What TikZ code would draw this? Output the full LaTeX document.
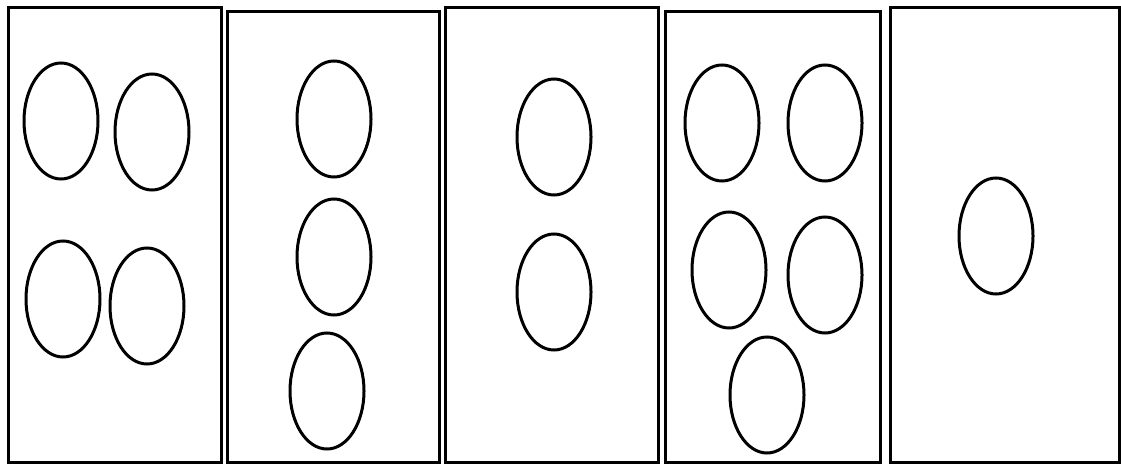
\documentclass[tikz,border=0pt]{standalone}
\begin{document}
\begin{tikzpicture}[x=1pt,y=-1pt,
  panel/.style={draw=black,line width=3pt},
  blob/.style={draw=black,line width=3pt}]
\useasboundingbox (0,0) rectangle (1121,465);
\fill[white] (0,0) rectangle (1121,465);
% panels
\draw[panel] (8,8) rectangle (221,462);
\draw[panel] (227,12) rectangle (439,462);
\draw[panel] (445,8) rectangle (658,462);
\draw[panel] (665,12) rectangle (880,462);
\draw[panel] (890,8) rectangle (1119,462);
% panel 1
\draw[blob] (61,121) ellipse [x radius=37, y radius=58];
\draw[blob] (152,132) ellipse [x radius=37, y radius=58];
\draw[blob] (63,299) ellipse [x radius=37, y radius=58];
\draw[blob] (147,306) ellipse [x radius=37, y radius=58];
% panel 2
\draw[blob] (334,119) ellipse [x radius=37, y radius=58];
\draw[blob] (334,257) ellipse [x radius=37, y radius=58];
\draw[blob] (327,391) ellipse [x radius=37, y radius=58];
% panel 3
\draw[blob] (554,137) ellipse [x radius=37, y radius=58];
\draw[blob] (554,292) ellipse [x radius=37, y radius=58];
% panel 4
\draw[blob] (722,123) ellipse [x radius=37, y radius=58];
\draw[blob] (825,123) ellipse [x radius=37, y radius=58];
\draw[blob] (729,270) ellipse [x radius=37, y radius=58];
\draw[blob] (825,275) ellipse [x radius=37, y radius=58];
\draw[blob] (767,395) ellipse [x radius=37, y radius=58];
% panel 5
\draw[blob] (996,236) ellipse [x radius=37, y radius=58];
\end{tikzpicture}
\end{document}
